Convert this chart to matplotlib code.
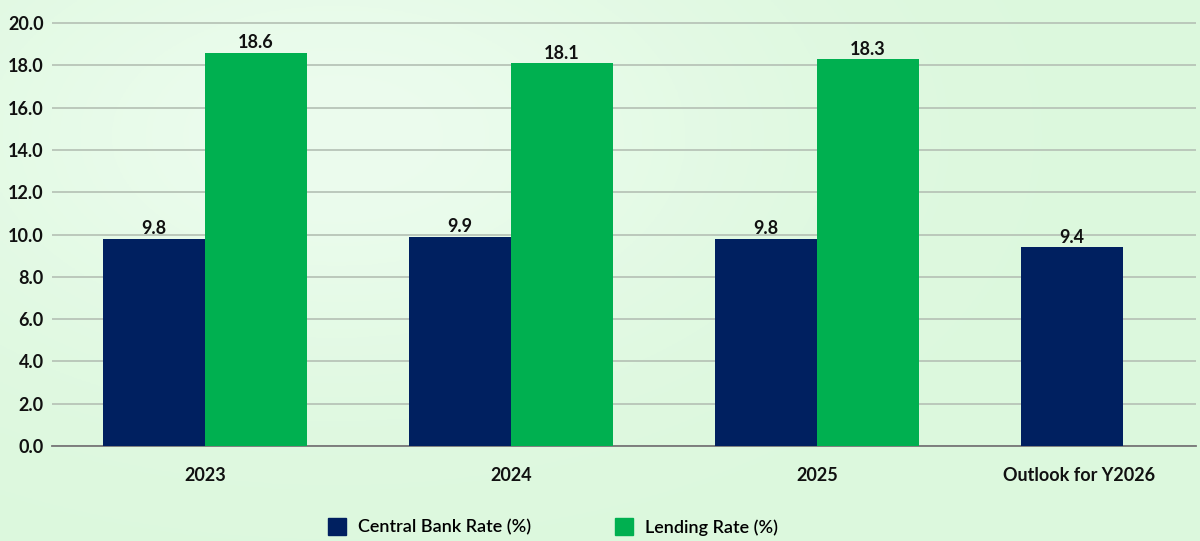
import numpy as np
import matplotlib
matplotlib.use("Agg")
import matplotlib.pyplot as plt
import matplotlib.transforms as mtransforms
from matplotlib.patches import Patch

plt.rcParams['font.family'] = ['Lato', 'DejaVu Sans']

# Rates by period (%)
categories = ['2023', '2024', '2025', 'Outlook for Y2026']
central_bank = [9.8, 9.9, 9.8, 9.4]
lending = [18.6, 18.1, 18.3, None]
yticks = [0, 2, 4, 6, 8, 10, 12, 14, 16, 18, 20]

NAVY = '#002060'
GREEN = '#00B050'

fig = plt.figure(figsize=(12, 5.41), dpi=100)

# soft green backdrop, lighter towards the upper left
bg = fig.add_axes([0, 0, 1, 1], zorder=-10)
yy, xx = np.mgrid[0:1:200j, 0:1:400j]
glow = np.exp(-(((xx - 0.28) / 0.35) ** 2 + ((yy - 0.25) / 0.45) ** 2))
base = np.array([220, 248, 221]) / 255.0
light = np.array([236, 252, 238]) / 255.0
img = base[None, None, :] + (light - base)[None, None, :] * glow[..., None]
bg.imshow(img, extent=[0, 1, 0, 1], aspect='auto', origin='upper')
bg.axis('off')

ax = fig.add_axes([52 / 1200, 95 / 541, (1196 - 52) / 1200, (446 - 22) / 541])
ax.patch.set_alpha(0)

x = np.arange(len(categories))
w = 1 / 3.0
cb_bars = ax.bar(x - w / 2, central_bank, w, color=NAVY, zorder=3)
lend_x = [xi + w / 2 for xi, v in zip(x, lending) if v is not None]
lend_v = [v for v in lending if v is not None]
ln_bars = ax.bar(lend_x, lend_v, w, color=GREEN, zorder=3)

for bars in (cb_bars, ln_bars):
    ax.bar_label(bars, labels=['%.1f' % b.get_height() for b in bars],
                 padding=1, fontsize=13, fontweight='bold', color='#111111')

ax.set_ylim(0, 20.05)
ax.set_xlim(-0.5, -0.5 + (1196 - 52) / 306.0)
ax.set_yticks(yticks)
ax.set_yticklabels(['%.1f' % t for t in yticks])
ax.yaxis.grid(True, color='#b8c4b8', linewidth=1.3, zorder=0)
ax.set_axisbelow(True)
for s in ['top', 'right', 'left']:
    ax.spines[s].set_visible(False)
ax.spines['bottom'].set_color('#777777')
ax.spines['bottom'].set_linewidth(1.3)
ax.tick_params(axis='both', length=0, labelsize=13, colors='#111111')
ax.tick_params(axis='y', pad=6)
ax.tick_params(axis='x', pad=15)
ax.set_xticks(x)
ax.set_xticklabels(categories, fontweight='bold')
for lab in ax.get_yticklabels():
    lab.set_fontweight('bold')

# last label is pulled left so it stays inside the figure
last = ax.get_xticklabels()[-1]
last.set_transform(last.get_transform() +
                   mtransforms.ScaledTranslation(-0.44, 0, fig.dpi_scale_trans))

handles = [Patch(color=NAVY, label='Central Bank Rate (%)'),
           Patch(color=GREEN, label='Lending Rate (%)')]
fig.legend(handles=handles, loc='center', bbox_to_anchor=(553 / 1200, 1 - 527 / 541),
           ncol=2, frameon=False, fontsize=13, handlelength=1.0, handleheight=1.0,
           handletextpad=0.7, columnspacing=4.6,
           prop={'family': ['Lato', 'DejaVu Sans'], 'weight': 'semibold', 'size': 13})

fig.savefig('out.png', dpi=100)
